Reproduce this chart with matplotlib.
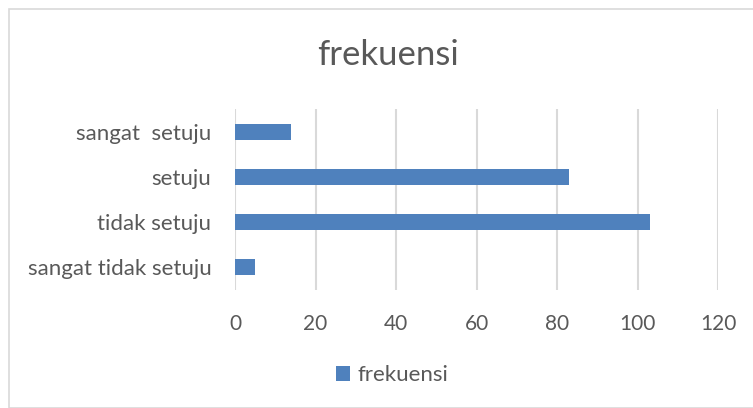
import matplotlib
matplotlib.use("Agg")
import matplotlib.pyplot as plt
from matplotlib.patches import Rectangle

categories = ["sangat tidak setuju", "tidak setuju", "setuju", "sangat  setuju"]
values = [5, 103, 83, 14]
xticks = [0, 20, 40, 60, 80, 100, 120]
series_name = "frekuensi"
title = "frekuensi"

bar_color = "#4F81BD"
text_color = "#595959"
grid_color = "#D9D9D9"

plt.rcParams['font.family'] = ['Lato', 'DejaVu Sans']

W, H = 753, 408
fig = plt.figure(figsize=(W/100, H/100), dpi=100)
fig.patch.set_facecolor("white")

# chart border
fig.patches.append(Rectangle((9/W, 0), (W-9)/W + 0.01, (H-9)/H, transform=fig.transFigure,
                             fill=False, edgecolor="#D9D9D9", linewidth=1.2))

left, right, top, bottom = 235, 718, 109, 290
ax = fig.add_axes([left/W, 1-bottom/H, (right-left)/W, (bottom-top)/H])
ax.barh(range(len(categories)), values, height=0.35, color=bar_color, label=series_name, zorder=3)
ax.set_xlim(0, 120)
ax.set_ylim(-0.5, len(categories)-0.5)
ax.set_xticks(xticks)
ax.set_xticklabels([str(t) for t in xticks])
ax.set_yticks(range(len(categories)))
ax.set_yticklabels(categories)
ax.tick_params(axis='x', length=0, pad=17, labelsize=15, colors=text_color)
ax.tick_params(axis='y', length=0, pad=17, labelsize=16, colors=text_color)
ax.grid(axis='x', color=grid_color, linewidth=1.5, zorder=0)
for s in ax.spines.values():
    s.set_visible(False)

fig.text(388/W, 1-55/H, title, ha='center', va='center', fontsize=25, color=text_color)

leg = fig.legend(loc='center', bbox_to_anchor=(392/W, 1-375/H), frameon=False,
                 fontsize=16, handlelength=0.65, handleheight=0.65, handletextpad=0.3,
                 labelcolor=text_color)

fig.savefig("out.png", dpi=100)
